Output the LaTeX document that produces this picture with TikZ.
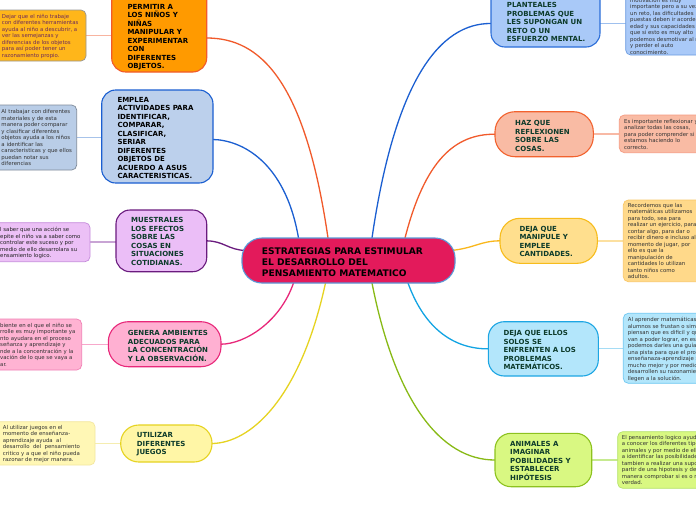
\documentclass[tikz,border=0pt]{standalone}
\usepackage{fontspec}
\setmainfont{DejaVu Sans}
\usetikzlibrary{calc,backgrounds}
\definecolor{dgreen}{HTML}{0D3B2B}
\definecolor{ntext}{HTML}{333333}
\begin{document}
\begin{tikzpicture}[x=1pt,y=-1pt,
  box/.style={inner sep=0pt, outer sep=0pt, line width=1.1pt},
  note/.style={inner sep=0pt, outer sep=0pt, line width=0.7pt, rounded corners=5pt},
  mtxt/.style={anchor=north west, inner sep=0pt, align=left, font=\fontsize{7}{8.5}\selectfont\bfseries},
  ctxt/.style={anchor=north west, inner sep=0pt, align=left, font=\fontsize{9.1}{11}\selectfont\bfseries},
  ntxt/.style={anchor=north west, inner sep=0pt, align=left, text=ntext, font=\fontsize{5.4}{6.5}\selectfont},
  conn/.style={line width=1.3pt},
  lconn/.style={line width=1.6pt}
]
\useasboundingbox (0,0) rectangle (696,520);

% ---------- central ----------
\node[box, fill={rgb,255:red,227;green,26;blue,91}, draw={rgb,255:red,90;green,154;blue,216}, rounded corners=20pt, minimum width=213pt, minimum height=45pt] (C) at (348.5,260.5) {};
\node[ctxt] (Ct) at (261.7,247.2) {ESTRATEGIAS PARA ESTIMULAR\\EL DESARROLLO DEL\\PENSAMIENTO MATEMATICO};

% ---------- left main ----------
\node[box, fill={rgb,255:red,255;green,154;blue,0}, draw={rgb,255:red,241;green,90;blue,43}, rounded corners=14pt, minimum width=95pt, minimum height=88pt] (L1) at (159.2,28) {};
\node[mtxt] (L1t) at (127.3,4.1) {PERMITIR A\\LOS NIÑOS Y\\NIÑAS\\MANIPULAR Y\\EXPERIMENTAR\\CON\\DIFERENTES\\OBJETOS.};

\node[box, fill={rgb,255:red,188;green,208;blue,236}, draw={rgb,255:red,27;green,95;blue,209}, rounded corners=14pt, minimum width=111.3pt, minimum height=93pt] (L2) at (157.35,136.5) {};
\node[mtxt] (L2t) at (117.3,96.7) {EMPLEA\\ACTIVIDADES PARA\\IDENTIFICAR,\\COMPARAR,\\CLASIFICAR,\\SERIAR\\DIFERENTES\\OBJETOS DE\\ACUERDO A ASUS\\CARACTERISTICAS.};

\node[box, fill={rgb,255:red,235;green,190;blue,247}, draw={rgb,255:red,106;green,27;blue,126}, rounded corners=14pt, minimum width=90.7pt, minimum height=61.7pt] (L3) at (161.35,240.85) {};
\node[mtxt, text=dgreen] (L3t) at (131,217.4) {MUESTRALES\\LOS EFECTOS\\SOBRE LAS\\COSAS EN\\SITUACIONES\\COTIDIANAS.};

\node[box, fill={rgb,255:red,255;green,176;blue,210}, draw={rgb,255:red,232;green,40;blue,122}, rounded corners=20pt, minimum width=112.7pt, minimum height=45pt] (L4) at (164.65,344.2) {};
\node[mtxt, text=dgreen] (L4t) at (127.7,330.1) {GENERA AMBIENTES\\ADECUADOS PARA\\LA CONCENTRACIÓN\\Y LA OBSERVACIÓN.};

\node[box, fill={rgb,255:red,255;green,246;blue,166}, draw={rgb,255:red,230;green,211;blue,33}, rounded corners=18pt, minimum width=91.3pt, minimum height=37pt] (L5) at (166.35,443.5) {};
\node[mtxt, text=dgreen] (L5t) at (136.7,432.4) {UTILIZAR\\DIFERENTES\\JUEGOS};

% ---------- right main ----------
\node[box, fill={rgb,255:red,169;green,201;blue,248}, draw={rgb,255:red,44;green,110;blue,216}, rounded corners=14pt, minimum width=109pt, minimum height=63pt] (R1) at (545.5,15.5) {};
\node[mtxt, text=dgreen] (R1t) at (506.7,2.4) {PLANTEALES\\PROBLEMAS QUE\\LES SUPONGAN UN\\RETO O UN\\ESFUERZO MENTAL.};

\node[box, fill={rgb,255:red,249;green,187;blue,164}, draw={rgb,255:red,242;green,98;blue,46}, rounded corners=20pt, minimum width=98.3pt, minimum height=45pt] (R2) at (544.15,134.2) {};
\node[mtxt, text=dgreen] (R2t) at (515,120.1) {HAZ QUE\\REFLEXIONEN\\SOBRE LAS\\COSAS.};

\node[box, fill={rgb,255:red,255;green,223;blue,142}, draw={rgb,255:red,247;green,188;blue,28}, rounded corners=20pt, minimum width=97.3pt, minimum height=45pt] (R3) at (548.65,240.8) {};
\node[mtxt, text=dgreen] (R3t) at (519.3,225.7) {DEJA QUE\\MANIPULE Y\\EMPLEE\\CANTIDADES.};

\node[box, fill={rgb,255:red,179;green,230;blue,251}, draw={rgb,255:red,29;green,166;blue,227}, rounded corners=16pt, minimum width=110pt, minimum height=54.3pt] (R4) at (543.3,348.85) {};
\node[mtxt, text=dgreen] (R4t) at (503.3,330.1) {DEJA QUE ELLOS\\SOLOS SE\\ENFRENTEN A LOS\\PROBLEMAS\\MATEMÁTICOS.};

\node[box, fill={rgb,255:red,217;green,248;blue,130}, draw={rgb,255:red,141;green,194;blue,31}, rounded corners=16pt, minimum width=96.7pt, minimum height=53.4pt] (R5) at (543.35,460) {};
\node[mtxt, text=dgreen] (R5t) at (510,440.7) {ANIMALES A\\IMAGINAR\\POBILIDADES Y\\ESTABLECER\\HIPÓTESIS};

% ---------- left notes ----------
\node[note, fill={rgb,255:red,255;green,182;blue,26}, draw={rgb,255:red,150;green,150;blue,150}, minimum width=91pt, minimum height=51pt] (N1) at (40.5,35.5) {};
\node[ntxt, text={rgb,255:red,110;green,44;blue,90}] (N1t) at (1.7,13.8) {Dejar que el niño trabaje\\con diferentes herramientas\\ayuda al niño a descubrir, a\\ver las semejanzas y\\diferencias de los objetos\\para así poder tener un\\razonamiento propio.};

\node[note, fill={rgb,255:red,185;green,205;blue,231}, draw={rgb,255:red,127;green,138;blue,153}, minimum width=81.7pt, minimum height=65pt] (N2) at (35.85,137.5) {};
\node[ntxt] (N2t) at (1.3,109.3) {Al trabajar con diferentes\\materiales y de esta\\manera poder comparar\\y clasificar diferentes\\objetos ayuda a los niños\\a identificar las\\caracteristicas y que ellos\\puedan notar sus\\diferencias};

\node[note, fill={rgb,255:red,236;green,192;blue,246}, draw={rgb,255:red,197;green,139;blue,219}, minimum width=95pt, minimum height=39pt] (N3) at (42.5,242.2) {};
\node[ntxt, text={rgb,255:red,34;green,34;blue,34}] (N3t) at (0,227) {l saber que una acción se\\epite el niño va a saber como\\controlar este suceso y por\\medio de ello desarrolara su\\ensamiento logico.};

\node[note, fill={rgb,255:red,255;green,179;blue,211}, draw={rgb,255:red,240;green,128;blue,181}, minimum width=86.7pt, minimum height=51pt] (N4) at (38.35,344.5) {};
\node[ntxt] (N4t) at (0,322.8) {biente en el que el niño se\\rrolle es muy importante ya\\nto ayudara en el proceso\\señanza y aprendizaje y\\nde a la concentración y la\\vación de lo que se vaya a\\ar.};

\node[note, fill={rgb,255:red,255;green,247;blue,181}, draw={rgb,255:red,243;green,231;blue,160}, minimum width=100pt, minimum height=43.3pt] (N5) at (45,443.35) {};
\node[ntxt] (N5t) at (2.7,425) {Al utilizar juegos en el\\momento de enseñanza-\\aprendizaje ayuda\ \ al\\desarrollo\ \ del\ \ pensamiento\\critico y a que el niño pueda\\razonar de mejor manera.};

% ---------- right notes ----------
\node[note, fill={rgb,255:red,169;green,201;blue,248}, draw={rgb,255:red,106;green,155;blue,224}, minimum width=94.3pt, minimum height=63pt] (RN1) at (672.85,23.5) {};
\node[ntxt] (RN1t) at (630,-2.5) {motivación es muy\\importante pero a su vez\\un reto, las dificultades\\puestas deben ir acorde a su\\edad y sus capacidades ya\\que si esto es muy alto\\podemos desmotivar al niño\\y perder el auto\\conocimiento.};

\node[note, fill={rgb,255:red,249;green,187;blue,164}, draw={rgb,255:red,245;green,154;blue,128}, minimum width=100.7pt, minimum height=37.7pt] (RN2) at (669.65,133.85) {};
\node[ntxt] (RN2t) at (624,118.7) {Es importante reflexionar y\\analizar todas las cosas,\\para poder comprender si\\estamos haciendo lo\\correcto.};

\node[note, fill={rgb,255:red,255;green,217;blue,138}, draw={rgb,255:red,249;green,199;blue,102}, minimum width=96.7pt, minimum height=81.7pt] (RN3) at (671.65,240.85) {};
\node[ntxt] (RN3t) at (627.7,203) {Recordemos que las\\matemáticas utilizamos\\para todo, sea para\\realizar un ejercicio, para\\contar algo, para dar o\\recibir dinero e incluso al\\momento de jugar, por\\ello es que la\\manipulación de\\cantidades lo utilizan\\tanto niños como\\adultos.};

\node[note, fill={rgb,255:red,179;green,230;blue,251}, draw={rgb,255:red,108;green,199;blue,242}, minimum width=96.7pt, minimum height=70pt] (RN4) at (671.65,348.3) {};
\node[ntxt] (RN4t) at (627.7,317) {Al aprender matemáticas los\\alumnos se frustan o simplemente\\piensan que es dificil y que no\\van a poder lograr, en ese caso\\podemos darles una guía o\\una pista para que el proceso\\enseñanaza-aprendizaje sea\\mucho mejor y por medio de ello\\desarrollen su razonamiento y\\llegen a la solución.};

\node[note, fill={rgb,255:red,217;green,248;blue,130}, draw={rgb,255:red,181;green,227;blue,107}, minimum width=102.3pt, minimum height=56.6pt] (RN5) at (668.85,460) {};
\node[ntxt] (RN5t) at (621.7,435.1) {El pensamiento logico ayuda\\a conocer los diferentes tipos de\\animales y por medio de ello\\a identificar las posibilidades y\\tambien a realizar una suposición a\\partir de una hipotesis y de esa\\manera comprobar si es o no\\verdad.};

% ---------- connectors ----------
\begin{scope}[on background layer]
\fill[white] (0,0) rectangle (696,520);
\draw[conn, draw={rgb,255:red,241;green,90;blue,43}] ($(C.north)+(-20.5,0)$) .. controls (305,80) and (260,38) .. ($(L1.east)+(0,10)$);
\draw[conn, draw={rgb,255:red,27;green,95;blue,209}] ($(C.north)+(-50,0)$) .. controls (285,160) and (240,140) .. ($(L2.east)+(0,3)$);
\draw[conn, draw={rgb,255:red,106;green,27;blue,126}] ($(C.west)+(4,-10)$) .. controls (228,250) and (224,241) .. (L3.east);
\draw[conn, draw={rgb,255:red,232;green,40;blue,122}] ($(C.south)+(-55,0)$) .. controls (280,322) and (245,344) .. (L4.east);
\draw[conn, draw={rgb,255:red,230;green,211;blue,33}] ($(C.south)+(-23,0)$) .. controls (300,400) and (250,443) .. (L5.east);
\draw[conn, draw={rgb,255:red,27;green,95;blue,209}] ($(C.north)+(23.5,0)$) .. controls (395,80) and (440,23) .. ($(R1.west)+(0,8)$);
\draw[conn, draw={rgb,255:red,241;green,90;blue,43}] ($(C.north)+(56.5,0)$) .. controls (425,160) and (455,134) .. (R2.west);
\draw[conn, draw={rgb,255:red,249;green,183;blue,28}] ($(C.east)+(-4,-10)$) .. controls (475,248) and (480,241) .. (R3.west);
\draw[conn, draw={rgb,255:red,18;green,164;blue,227}] ($(C.south)+(59.5,0)$) .. controls (425,330) and (455,349) .. (R4.west);
\draw[conn, draw={rgb,255:red,136;green,186;blue,22}] ($(C.south)+(23.5,0)$) .. controls (395,400) and (440,460) .. (R5.west);

\draw[lconn, draw={rgb,255:red,248;green,180;blue,160}] (N1.east) -- (N1.east -| L1.west);
\draw[lconn, draw={rgb,255:red,167;green,195;blue,234}] (N2.east) -- (N2.east -| L2.west);
\draw[lconn, draw={rgb,255:red,200;green,164;blue,212}] (N3.east) -- (N3.east -| L3.west);
\draw[lconn, draw={rgb,255:red,247;green,168;blue,203}] (N4.east) -- (N4.east -| L4.west);
\draw[lconn, draw={rgb,255:red,245;green,237;blue,176}] (N5.east) -- (N5.east -| L5.west);
\draw[lconn, draw={rgb,255:red,159;green,192;blue,238}] (RN1.west) -- (RN1.west -| R1.east);
\draw[lconn, draw={rgb,255:red,248;green,185;blue,165}] (RN2.west) -- (RN2.west -| R2.east);
\draw[lconn, draw={rgb,255:red,252;green,224;blue,160}] (RN3.west) -- (RN3.west -| R3.east);
\draw[lconn, draw={rgb,255:red,165;green,220;blue,245}] (RN4.west) -- (RN4.west -| R4.east);
\draw[lconn, draw={rgb,255:red,198;green,234;blue,144}] (RN5.west) -- (RN5.west -| R5.east);
\end{scope}
\end{tikzpicture}
\end{document}
